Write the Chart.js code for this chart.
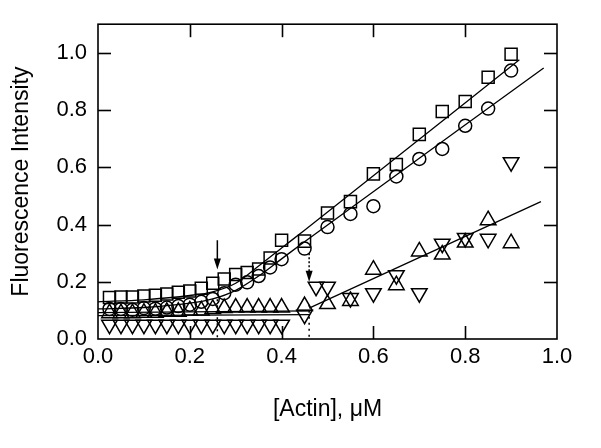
<!DOCTYPE html>
<html>
<head>
<meta charset="utf-8">
<script src="https://cdn.jsdelivr.net/npm/chart.js@4/dist/chart.umd.min.js"></script>
<style>
html,body{margin:0;padding:0;background:#fff;}
#wrap{width:601px;height:448px;position:relative;}
</style>
</head>
<body>
<div id="wrap"><canvas id="c" width="601" height="448"></canvas></div>
<script>
// ---- data ----
const squareX = [0.025,0.05,0.075,0.1,0.125,0.15,0.175,0.2,0.225,0.25,0.275,0.3,0.325,0.35,0.375,0.4,0.45,0.5,0.55,0.6,0.65,0.7,0.75,0.8,0.85,0.9];
const squareY = [0.145,0.147,0.147,0.15,0.153,0.157,0.163,0.168,0.177,0.195,0.21,0.225,0.232,0.245,0.283,0.345,0.342,0.44,0.48,0.577,0.61,0.715,0.795,0.83,0.915,0.995];
const circleX = [0.025,0.05,0.075,0.1,0.125,0.15,0.175,0.2,0.225,0.25,0.275,0.3,0.325,0.35,0.375,0.4,0.45,0.5,0.55,0.6,0.65,0.7,0.75,0.8,0.85,0.9];
const circleY = [0.105,0.105,0.102,0.108,0.106,0.11,0.115,0.12,0.13,0.14,0.16,0.19,0.198,0.22,0.25,0.279,0.316,0.391,0.437,0.464,0.568,0.629,0.664,0.745,0.805,0.938];
const upX = [0.025,0.05,0.075,0.1,0.125,0.15,0.175,0.2,0.225,0.25,0.275,0.3,0.325,0.35,0.375,0.4,0.45,0.5,0.55,0.6,0.65,0.7,0.75,0.8,0.85,0.9];
const upY = [0.09,0.09,0.09,0.092,0.092,0.095,0.095,0.1,0.1,0.105,0.108,0.11,0.11,0.11,0.11,0.11,0.115,0.122,0.133,0.242,0.188,0.306,0.295,0.337,0.415,0.335];
const downX = [0.025,0.05,0.075,0.1,0.125,0.15,0.175,0.2,0.225,0.25,0.275,0.3,0.325,0.35,0.375,0.4,0.45,0.475,0.5,0.55,0.6,0.65,0.7,0.75,0.8,0.85,0.9];
const downY = [0.05,0.05,0.05,0.05,0.05,0.05,0.05,0.05,0.05,0.05,0.05,0.05,0.05,0.05,0.05,0.05,0.085,0.183,0.183,0.143,0.16,0.223,0.16,0.333,0.353,0.35,0.618];

// fitted curves
const fitSqX = [0,0.1,0.2,0.25,0.3,0.35,0.4,0.45,0.918];
const fitSqY = [0.13,0.137,0.152,0.165,0.195,0.255,0.318,0.38,0.976];
const fitCiX = [0,0.1,0.2,0.25,0.3,0.35,0.4,0.45,0.971];
const fitCiY = [0.105,0.11,0.125,0.14,0.17,0.22,0.28,0.34,0.947];
const fitUpX = [0,0.462];
const fitUpY = [0.092,0.098];
const fitDownX = [0,0.462];
const fitDownY = [0.082,0.085];
const fitRiseX = [0.46,0.965];
const fitRiseY = [0.108,0.48];

// arrows marking the transitions
const arrowX = [0.26,0.46];
const arrowTail = [0.345,0.30];
const arrowTip = [0.243,0.2];
const dropTop = [0.16,0.12];

const xTicks = [0,0.2,0.4,0.6,0.8,1.0];
const yTicks = [0,0.2,0.4,0.6,0.8,1.0];

const pts = (xs, ys) => xs.map((x,i)=>({x:x,y:ys[i]}));

const markerBase = {showLine:false, borderColor:'#000', backgroundColor:'rgba(0,0,0,0)', borderWidth:1.5};
const lineBase = {showLine:true, pointRadius:0, borderColor:'#000', borderWidth:1.3, fill:false, tension:0};

const datasets = [
  Object.assign({label:'fitSq', data:pts(fitSqX,fitSqY), cubicInterpolationMode:'monotone'}, lineBase),
  Object.assign({label:'fitCi', data:pts(fitCiX,fitCiY), cubicInterpolationMode:'monotone'}, lineBase),
  Object.assign({label:'fitUp', data:pts(fitUpX,fitUpY)}, lineBase),
  Object.assign({label:'fitDown', data:pts(fitDownX,fitDownY)}, lineBase),
  Object.assign({label:'fitRise', data:pts(fitRiseX,fitRiseY)}, lineBase),
  Object.assign({label:'shaft1', data:[{x:arrowX[0],y:arrowTail[0]},{x:arrowX[0],y:arrowTip[0]+0.02}]}, lineBase, {borderWidth:1.5}),
  Object.assign({label:'shaft2', data:[{x:arrowX[1],y:arrowTail[1]},{x:arrowX[1],y:arrowTip[1]+0.02}]}, lineBase, {borderWidth:1.5, borderDash:[2,2]}),
  Object.assign({label:'drop1', data:[{x:arrowX[0],y:dropTop[0]},{x:arrowX[0],y:0}]}, lineBase, {borderWidth:1.5, borderDash:[2,4]}),
  Object.assign({label:'drop2', data:[{x:arrowX[1],y:dropTop[1]},{x:arrowX[1],y:0}]}, lineBase, {borderWidth:1.5, borderDash:[2,4]}),
  Object.assign({label:'squares', data:pts(squareX,squareY), pointStyle:'rect', pointRadius:8.5}, markerBase),
  Object.assign({label:'circles', data:pts(circleX,circleY), pointStyle:'circle', pointRadius:6.5}, markerBase),
  Object.assign({label:'up', data:pts(upX,upY), pointStyle:'triangle', pointRadius:9}, markerBase),
  Object.assign({label:'down', data:pts(downX,downY), pointStyle:'triangle', pointRadius:9, pointRotation:180}, markerBase)
];

const framePlugin = {
  id:'frame',
  afterDatasetsDraw(chart){
    const ctx = chart.ctx;
    const a = chart.chartArea;
    const xs = chart.scales.x, ys = chart.scales.y;
    const L = 13;
    ctx.save();
    ctx.setLineDash([]);
    ctx.strokeStyle = '#000';
    ctx.lineWidth = 1.6;
    ctx.strokeRect(a.left, a.top, a.right-a.left, a.bottom-a.top);
    for (const v of xTicks) {
      if (v <= 0.001 || v >= 0.999) continue;
      const px = Math.round(xs.getPixelForValue(v)) + 0.5;
      ctx.beginPath();
      ctx.moveTo(px, a.bottom); ctx.lineTo(px, a.bottom - L);
      ctx.stroke();
      ctx.beginPath();
      ctx.moveTo(px, a.top); ctx.lineTo(px, a.top + L);
      ctx.stroke();
    }
    for (const v of yTicks) {
      if (v <= 0.001) continue;
      const py = Math.round(ys.getPixelForValue(v)) + 0.5;
      ctx.beginPath();
      ctx.moveTo(a.left, py); ctx.lineTo(a.left + L, py);
      ctx.stroke();
      ctx.beginPath();
      ctx.moveTo(a.right, py); ctx.lineTo(a.right - L, py);
      ctx.stroke();
    }
    ctx.fillStyle = '#000';
    for (let i = 0; i < arrowX.length; i++) {
      const px = xs.getPixelForValue(arrowX[i]);
      const py = ys.getPixelForValue(arrowTip[i]);
      ctx.beginPath();
      ctx.moveTo(px, py);
      ctx.lineTo(px - 3.5, py - 11);
      ctx.lineTo(px + 3.5, py - 11);
      ctx.closePath();
      ctx.fill();
    }
    ctx.restore();
  }
};

Chart.defaults.font.family = '"Liberation Sans", Arial, sans-serif';
Chart.defaults.color = '#000';

new Chart(document.getElementById('c'), {
  type:'scatter',
  data:{datasets},
  options:{
    responsive:false,
    animation:false,
    events:[],
    layout:{padding:{left:0,right:44,top:21,bottom:0}},
    plugins:{legend:{display:false}, tooltip:{enabled:false}},
    scales:{
      x:{
        type:'linear', min:0, max:1.0,
        grid:{display:false, drawTicks:false},
        border:{display:false},
        afterBuildTicks(s){ s.ticks = xTicks.map(v=>({value:v})); },
        ticks:{padding:5, font:{size:22}, callback:v=>Number(v).toFixed(1), maxRotation:0, autoSkip:false},
        title:{display:true, text:'[Actin], μM', font:{size:23}, padding:{top:0,bottom:25}},
        afterFit(s){ s.height = 109; }
      },
      y:{
        type:'linear', min:0, max:1.1,
        grid:{display:false, drawTicks:false},
        border:{display:false},
        afterBuildTicks(s){ s.ticks = yTicks.map(v=>({value:v})); },
        ticks:{padding:11, font:{size:22}, callback:v=>Number(v).toFixed(1), autoSkip:false},
        title:{display:true, text:'Fluorescence Intensity', font:{size:23}, padding:{top:8,bottom:0}},
        afterFit(s){ s.width = 98; }
      }
    }
  },
  plugins:[framePlugin]
});
</script>
</body>
</html>
